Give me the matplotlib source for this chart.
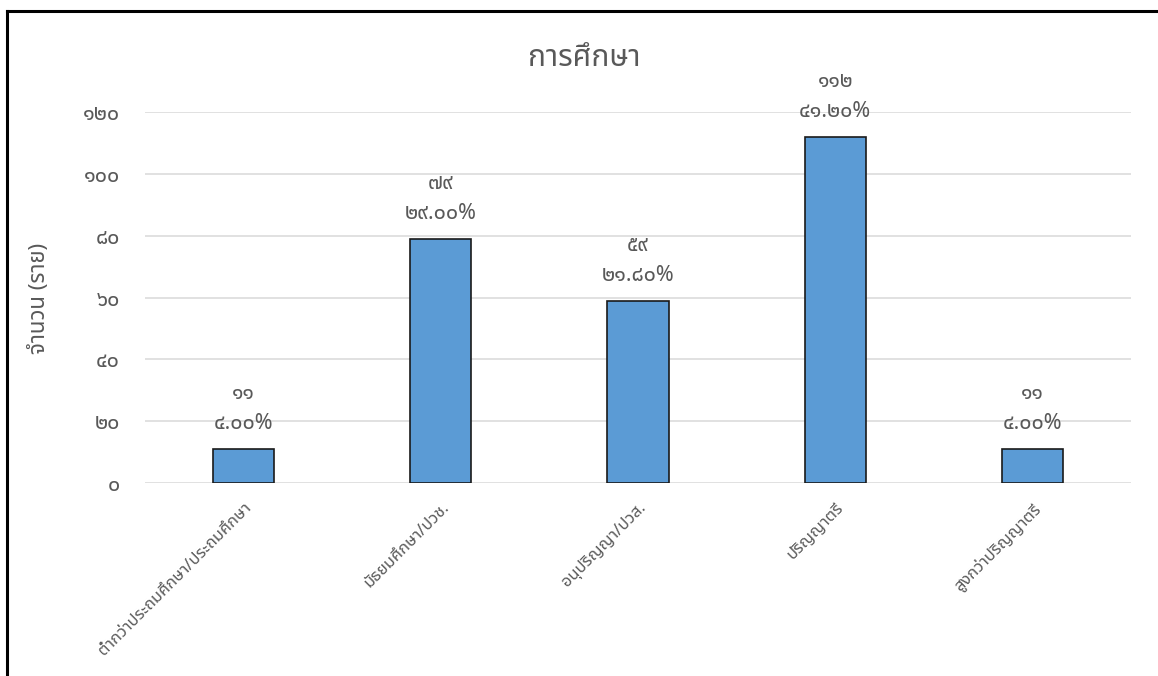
import matplotlib
matplotlib.use("Agg")
import matplotlib.pyplot as plt
from matplotlib.lines import Line2D
from matplotlib.ticker import FuncFormatter, MultipleLocator

plt.rcParams['font.family'] = ['Noto Sans Thai', 'DejaVu Sans']

# Education level of respondents
categories = ['ต่ำกว่าประถมศึกษา/ประถมศึกษา', 'มัธยมศึกษา/ปวช.', 'อนุปริญญา/ปวส.',
              'ปริญญาตรี', 'สูงกว่าปริญญาตรี']
counts = [11, 79, 59, 112, 11]
percents = [4.00, 29.00, 21.80, 41.20, 4.00]
title = 'การศึกษา'
ylabel = 'จำนวน (ราย)'

THAI_DIGITS = str.maketrans('0123456789', '๐๑๒๓๔๕๖๗๘๙')


def thai(s):
    return str(s).translate(THAI_DIGITS)


W, H = 1158, 676
fig = plt.figure(figsize=(W / 100, H / 100), dpi=100)
fig.patch.set_facecolor('white')

# plot area in pixels: left 145, right 1131, top 112, bottom 483
ax = fig.add_axes([145 / W, 1 - 483 / H, (1131 - 145) / W, (483 - 112) / H])

grey = '#595959'
x = range(len(categories))
ax.bar(x, counts, width=0.31, color='#5B9BD5', edgecolor='#1a1a1a',
       linewidth=1.2, zorder=3)

ax.set_xlim(-0.5, len(categories) - 0.5)
ax.set_ylim(0, 120)
ax.yaxis.set_major_locator(MultipleLocator(20))
ax.yaxis.set_major_formatter(FuncFormatter(lambda v, p: thai(int(v))))
ax.grid(axis='y', color='#D9D9D9', linewidth=1.1, zorder=0)
for s in ax.spines.values():
    s.set_visible(False)
ax.tick_params(axis='y', length=0, pad=18, labelsize=15.5, labelcolor=grey)
ax.tick_params(axis='x', length=0, pad=12)
ax.set_xticks(list(x))
ax.set_xticklabels(categories, rotation=45, ha='right', rotation_mode='anchor',
                   fontsize=11.8, color=grey)

for xi, c, p in zip(x, counts, percents):
    ax.annotate(thai(f'{p:.2f}%'), (xi, c), xytext=(0, 18), textcoords='offset points',
                ha='center', va='center', fontsize=15.5, color=grey)
    ax.annotate(thai(c), (xi, c), xytext=(0, 40), textcoords='offset points',
                ha='center', va='center', fontsize=15, color=grey)

fig.text(584 / W, 1 - 59 / H, title, ha='center', va='center', fontsize=21.5, color=grey)
fig.text(39 / W, 1 - 298 / H, ylabel, ha='center', va='center', rotation=90,
         fontsize=16, color=grey)

# outer frame (top and left edges)
fig.add_artist(Line2D([6.5 / W, 1.0], [1 - 10.5 / H, 1 - 10.5 / H],
                      transform=fig.transFigure, color='black', linewidth=2.2))
fig.add_artist(Line2D([6.5 / W, 6.5 / W], [0.0, 1 - 10.5 / H],
                      transform=fig.transFigure, color='black', linewidth=2.2))

fig.savefig('out.png', dpi=100)
